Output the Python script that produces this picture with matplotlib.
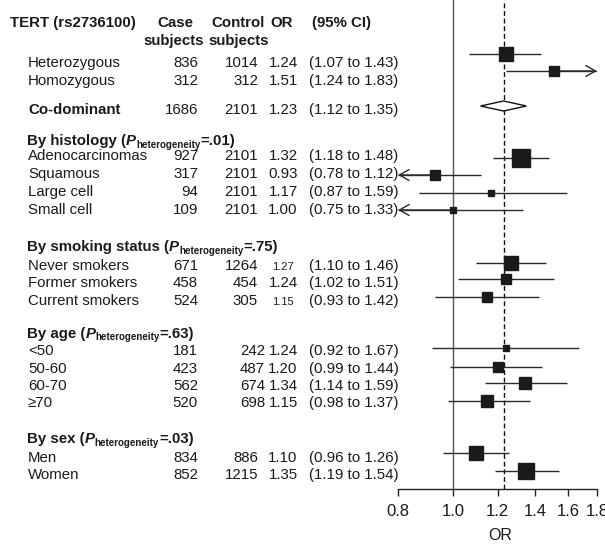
import matplotlib
matplotlib.use("Agg")
import matplotlib.pyplot as plt
from matplotlib.ticker import FixedLocator, FixedFormatter, NullLocator
import numpy as np

plt.rcParams['font.family'] = ['Liberation Sans', 'DejaVu Sans']

# ---------------- data ----------------
title_label = "TERT (rs2736100)"
col_headers = ["Case", "Control", "OR", "(95% CI)"]
col_sub = "subjects"
labels = ["Heterozygous", "Homozygous", "Co-dominant", "Adenocarcinomas", "Squamous",
          "Large cell", "Small cell", "Never smokers", "Former smokers", "Current smokers",
          "<50", "50-60", "60-70", "\u226570", "Men", "Women"]
case_n = [836, 312, 1686, 927, 317, 94, 109, 671, 458, 524, 181, 423, 562, 520, 834, 852]
control_n = [1014, 312, 2101, 2101, 2101, 2101, 2101, 1264, 454, 305, 242, 487, 674, 698, 886, 1215]
or_vals = [1.24, 1.51, 1.23, 1.32, 0.93, 1.17, 1.00, 1.27, 1.24, 1.15, 1.24, 1.20, 1.34, 1.15, 1.10, 1.35]
ci_lo = [1.07, 1.24, 1.12, 1.18, 0.78, 0.87, 0.75, 1.10, 1.02, 0.93, 0.92, 0.99, 1.14, 0.98, 0.96, 1.19]
ci_hi = [1.43, 1.83, 1.35, 1.48, 1.12, 1.59, 1.33, 1.46, 1.51, 1.42, 1.67, 1.44, 1.59, 1.37, 1.26, 1.54]
group_names = ["By histology", "By smoking status", "By age", "By sex"]
group_p = [".01", ".75", ".63", ".03"]
x_ticks = [0.8, 1.0, 1.2, 1.4, 1.6, 1.8]
tick_labels = ["0.8", "1.0", "1.2", "1.4", "1.6", "1.8"]
x_label = "OR"
pooled_index = 2

# ---------------- layout (pixels) ----------------
W, H = 605, 544
row_base = [67, 85, 114, 160, 178, 196, 214, 270, 287, 305, 355, 373, 390, 407, 462, 479]
mark_y = [54, 71, 106, 158, 175, 193, 210, 263, 279, 297, 348, 367, 383, 401, 453, 471]
group_base = [145, 251, 338, 443]
small_or_rows = {7, 9}
shifted_ctrl_rows = {10, 11, 12, 13}
FS = 10.8
TXT = '#1a1a1a'

fig = plt.figure(figsize=(W / 100, H / 100), dpi=100)
tx = fig.add_axes([0, 0, 1, 1])
tx.set_xlim(0, W)
tx.set_ylim(H, 0)
tx.axis('off')

ax_left, ax_right, ax_bottom = 398, 597, 489
fx = fig.add_axes([ax_left / W, (H - ax_bottom) / H, (ax_right - ax_left) / W, ax_bottom / H])
fx.set_xscale('log')
fx.set_xlim(x_ticks[0], x_ticks[-1])
fx.set_ylim(ax_bottom, 0)
fx.patch.set_alpha(0)
for s in ['top', 'left', 'right']:
    fx.spines[s].set_visible(False)
fx.spines['bottom'].set_color('#222222')
fx.spines['bottom'].set_linewidth(1.0)
fx.yaxis.set_visible(False)
fx.xaxis.set_major_locator(FixedLocator(x_ticks))
fx.xaxis.set_major_formatter(FixedFormatter(tick_labels))
fx.xaxis.set_minor_locator(NullLocator())
fx.tick_params(axis='x', direction='out', length=5, width=1, color='#222222',
               labelsize=12, labelcolor=TXT, pad=6)

renderer = fig.canvas.get_renderer()

# headers
tx.text(10, 27, title_label, fontsize=FS, fontweight='bold', color=TXT, va='baseline')
tx.text(175, 27, col_headers[0], fontsize=FS, fontweight='bold', color=TXT, va='baseline', ha='center')
tx.text(238, 27, col_headers[1], fontsize=FS, fontweight='bold', color=TXT, va='baseline', ha='center')
tx.text(282, 27, col_headers[2], fontsize=FS, fontweight='bold', color=TXT, va='baseline', ha='center')
tx.text(312, 27, col_headers[3], fontsize=FS, fontweight='bold', color=TXT, va='baseline', ha='left')
tx.text(174, 45, col_sub, fontsize=FS, fontweight='bold', color=TXT, va='baseline', ha='center')
tx.text(239, 45, col_sub, fontsize=FS, fontweight='bold', color=TXT, va='baseline', ha='center')


def rich(x, y, parts):
    for s, size, style, dy in parts:
        t = tx.text(x, y + dy, s, fontsize=size, fontweight='bold', fontstyle=style,
                    color=TXT, va='baseline', ha='left')
        x += t.get_window_extent(renderer).width


for name, p, yb in zip(group_names, group_p, group_base):
    rich(27, yb, [(name + " (", FS, 'normal', 0),
                  ("P", FS, 'italic', 0),
                  ("heterogeneity", 7, 'normal', 2.5),
                  ("=" + p + ")", FS, 'normal', 0)])

# rows
for i, lab in enumerate(labels):
    yb = row_base[i]
    tx.text(28, yb, lab, fontsize=FS, color=TXT, va='baseline',
            fontweight='bold' if i == pooled_index else 'normal')
    tx.text(198, yb, str(case_n[i]), fontsize=FS, color=TXT, va='baseline', ha='right')
    cx = 265 if i in shifted_ctrl_rows else 258
    tx.text(cx, yb, str(control_n[i]), fontsize=FS, color=TXT, va='baseline', ha='right')
    tx.text(283, yb, f"{or_vals[i]:.2f}", fontsize=8 if i in small_or_rows else FS,
            color=TXT, va='baseline', ha='center')
    tx.text(309, yb, f"({ci_lo[i]:.2f} to {ci_hi[i]:.2f})", fontsize=FS, color=TXT,
            va='baseline', ha='left')

tx.text((ax_left + ax_right) / 2 + 3, 535, x_label, fontsize=11.5, color=TXT, ha='center', va='center')

# reference lines
fx.axvline(1.0, color='#555555', lw=1.0, zorder=1)
fx.axvline(or_vals[pooled_index], color='#111111', lw=1.0, dashes=(3.5, 2), zorder=1)

LC = '#2a2a2a'
xmin, xmax = x_ticks[0], x_ticks[-1]
astyle = '->,head_length=0.5,head_width=0.28'
for i in range(len(labels)):
    y = mark_y[i]
    lo, hi, o = ci_lo[i], ci_hi[i], or_vals[i]
    if i == pooled_index:
        fx.fill([lo, o, hi, o, lo], [y, y - 5, y, y + 5, y], facecolor='white',
                edgecolor='#111111', lw=1.0, zorder=3)
        continue
    a, b = max(lo, xmin), min(hi, xmax)
    fx.plot([a, b], [y, y], color=LC, lw=1.0, zorder=2, solid_capstyle='butt')
    if hi > xmax:
        fx.annotate('', xy=(xmax, y), xytext=(o, y),
                    arrowprops=dict(arrowstyle=astyle, color=LC, lw=1.0,
                                    shrinkA=0, shrinkB=0, mutation_scale=14),
                    annotation_clip=False)
    if lo < xmin:
        fx.annotate('', xy=(xmin, y), xytext=(o, y),
                    arrowprops=dict(arrowstyle=astyle, color=LC, lw=1.0,
                                    shrinkA=0, shrinkB=0, mutation_scale=14),
                    annotation_clip=False)
    se = (np.log(hi) - np.log(lo)) / (2 * 1.96)
    side_px = 1.0 / se
    fx.plot([o], [y], marker='s', ms=side_px * 0.72, color='#1a1a1a', mec='#1a1a1a',
            linestyle='none', zorder=4, clip_on=False)

fig.savefig("out.png", dpi=100)
